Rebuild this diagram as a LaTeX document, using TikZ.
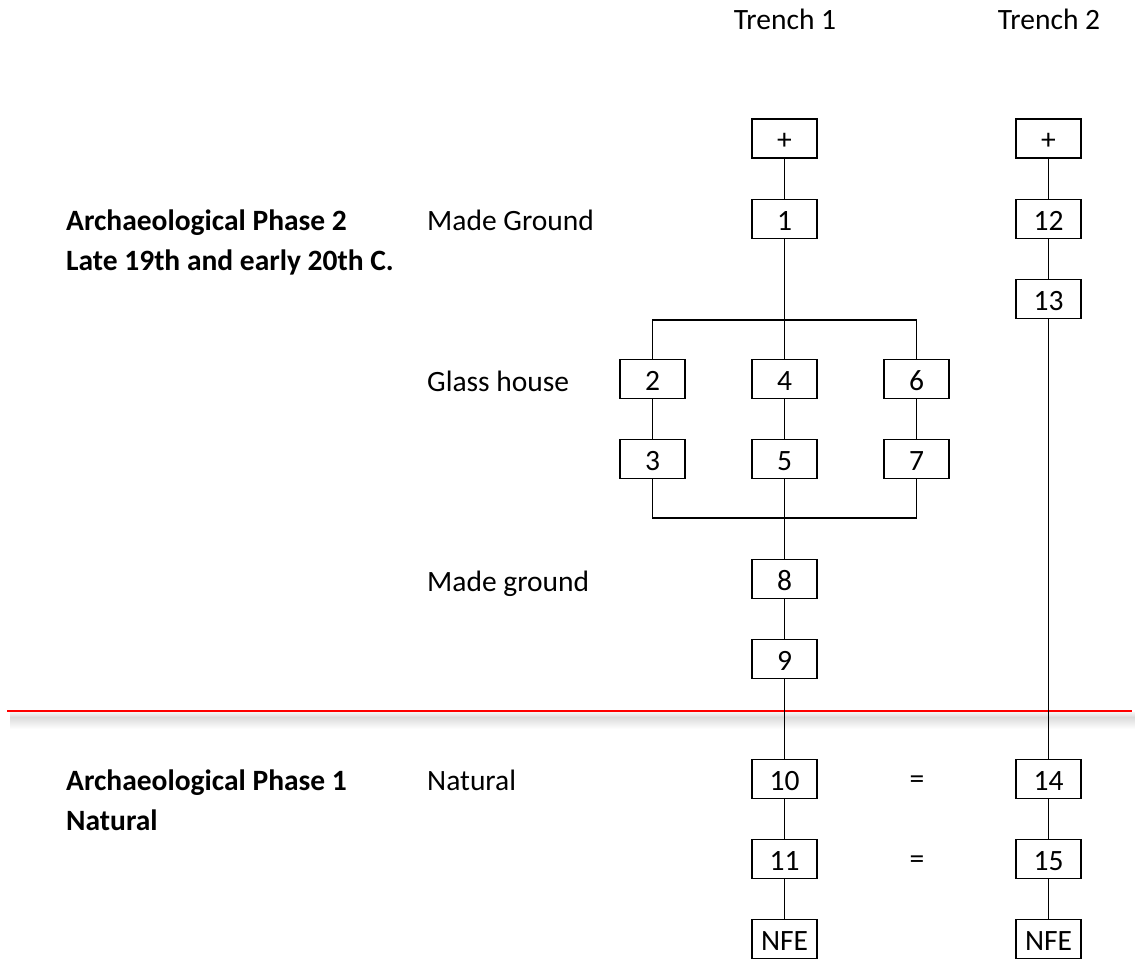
\documentclass[tikz,border=0pt]{standalone}
\usepackage{fontspec}
\setmainfont{Carlito}
\begin{document}
\begin{tikzpicture}[x=1pt,y=-1pt,
  txt/.style={font=\fontsize{29.5}{35}\selectfont},
  unit/.style={txt, draw, line width=1.8pt, minimum width=65pt, minimum height=39pt,
    inner sep=0pt, text height=22pt, text depth=0pt},
  lbl/.style={txt, anchor=base west, inner sep=0pt},
  phase/.style={lbl, font=\fontsize{29.5}{35}\selectfont\bfseries},
  head/.style={txt, anchor=base, inner sep=0pt},
  link/.style={line width=1.8pt},
  divider/.style={red, line width=2.2pt}]
\useasboundingbox (0,0) rectangle (1135,960);

% phase divider with its soft drop shadow
\shade[top color=black!5, bottom color=black!14] (10,712.5) rectangle (1135,717);
\shade[top color=black!14, bottom color=white] (10,717) rectangle (1135,729);
\draw[divider] (7,711) -- (1132,711);

% column headings
\node[head] (t1) at (785,30) {Trench 1};
\node[head] (t2) at (1049,30) {Trench 2};

% phase descriptions
\node[phase] (ph2a) at (66,230) {Archaeological Phase 2};
\node[phase] (ph2b) at (66,270) {Late 19th and early 20th C.};
\node[phase] (ph1a) at (66,790) {Archaeological Phase 1};
\node[phase] (ph1b) at (66,830) {Natural};

% deposit labels
\node[lbl] (l1) at (427,230) {Made Ground};
\node[lbl] (l2) at (427,391) {Glass house};
\node[lbl] (l3) at (427,591) {Made ground};
\node[lbl] (l4) at (427,790) {Natural};

% Trench 1 sequence
\node[unit] (p1) at (784.5,138.5) {+};
\node[unit] (u1) at (784.5,219) {1};
\node[unit] (u2) at (652.5,379) {2};
\node[unit] (u4) at (784.5,379) {4};
\node[unit] (u6) at (916.5,379) {6};
\node[unit] (u3) at (652.5,459) {3};
\node[unit] (u5) at (784.5,459) {5};
\node[unit] (u7) at (916.5,459) {7};
\node[unit] (u8) at (784.5,579) {8};
\node[unit] (u9) at (784.5,659) {9};
\node[unit] (u10) at (784.5,779) {10};
\node[unit] (u11) at (784.5,859) {11};
\node[unit] (n1) at (784.5,939) {NFE};

% Trench 2 sequence
\node[unit] (p2) at (1048.5,138.5) {+};
\node[unit] (u12) at (1048.5,219) {12};
\node[unit] (u13) at (1048.5,299) {13};
\node[unit] (u14) at (1048.5,779) {14};
\node[unit] (u15) at (1048.5,859) {15};
\node[unit] (n2) at (1048.5,939) {NFE};

% equivalences between trenches
\node[txt, inner sep=0pt] (eq1) at (917,782) {=};
\node[txt, inner sep=0pt] (eq2) at (917,862) {=};

% junction points of the split and rejoin
\coordinate (split) at (784.5,320);
\coordinate (join) at (784.5,518);

% Trench 1 links
\draw[link] (p1.south) -- (u1.north);
\draw[link] (u1.south) -- (u4.north);
\draw[link] (u2.north) |- (split) -| (u6.north);
\draw[link] (u2.south) -- (u3.north);
\draw[link] (u4.south) -- (u5.north);
\draw[link] (u6.south) -- (u7.north);
\draw[link] (u3.south) |- (join) -| (u7.south);
\draw[link] (u5.south) -- (u8.north);
\draw[link] (u8.south) -- (u9.north);
\draw[link] (u9.south) -- (u10.north);
\draw[link] (u10.south) -- (u11.north);
\draw[link] (u11.south) -- (n1.north);

% Trench 2 links
\draw[link] (p2.south) -- (u12.north);
\draw[link] (u12.south) -- (u13.north);
\draw[link] (u13.south) -- (u14.north);
\draw[link] (u14.south) -- (u15.north);
\draw[link] (u15.south) -- (n2.north);
\end{tikzpicture}
\end{document}
